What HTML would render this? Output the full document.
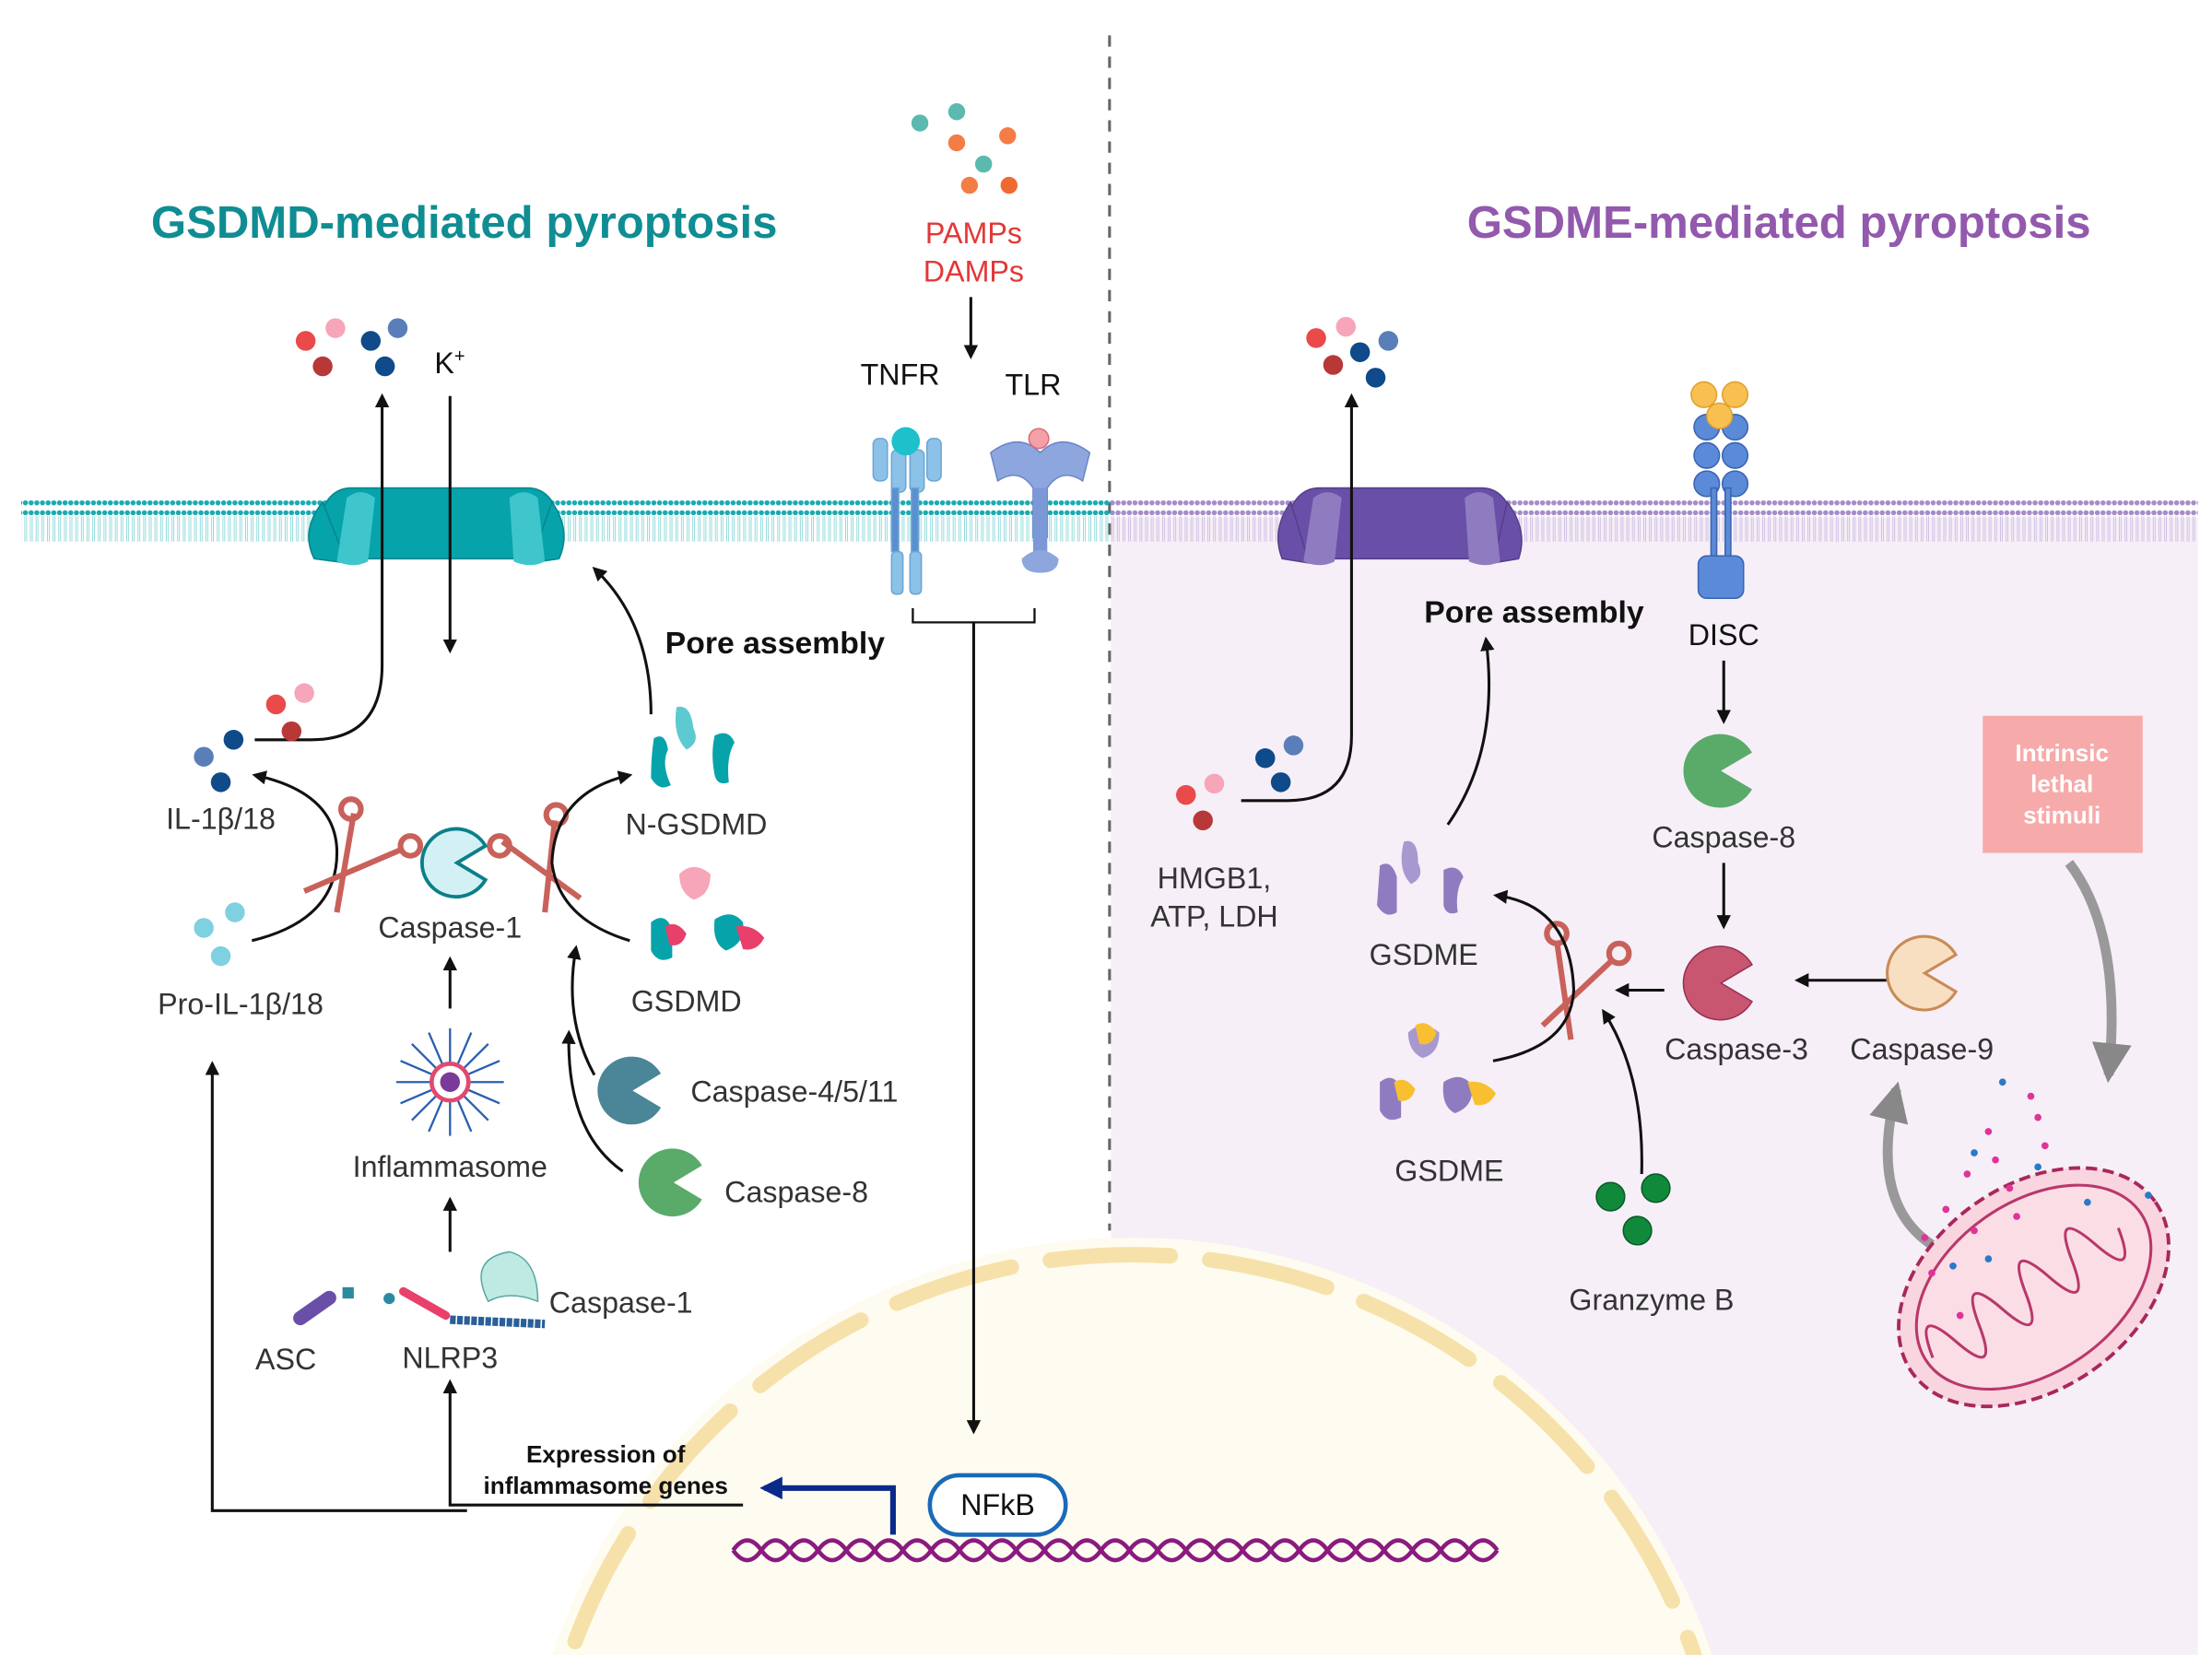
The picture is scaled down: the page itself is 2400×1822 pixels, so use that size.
<!DOCTYPE html>
<html><head><meta charset="utf-8"><style>html,body{margin:0;padding:0;background:#fff;width:2400px;height:1822px;overflow:hidden}svg{display:block}text{font-family:"Liberation Sans",sans-serif}</style></head><body>
<svg width="2400" height="1822" viewBox="0 0 1563 1187" preserveAspectRatio="none" xmlns="http://www.w3.org/2000/svg">
<defs>
<marker id="ah" viewBox="0 0 10 10" refX="8" refY="5" markerWidth="5" markerHeight="5" orient="auto"><path d="M0,0 L10,5 L0,10 Z" fill="#111"/></marker>
<marker id="ahb" viewBox="0 0 10 10" refX="8" refY="5" markerWidth="4" markerHeight="4" orient="auto"><path d="M0,0 L10,5 L0,10 Z" fill="#0a2a8a"/></marker>
<marker id="ahg" viewBox="0 0 10 10" refX="8" refY="5" markerWidth="4" markerHeight="4" orient="auto"><path d="M0,0 L10,5 L0,10 Z" fill="#888"/></marker>
<pattern id="mt" width="4" height="30" patternUnits="userSpaceOnUse"><circle cx="2" cy="2.5" r="1.8" fill="#1aaab0"/><circle cx="2" cy="25.5" r="1.8" fill="#1aaab0"/><path d="M1.5,5 V23 M2.8,5 V23" stroke="#8fd8da" stroke-width="0.6"/></pattern>
<pattern id="mp" width="4" height="30" patternUnits="userSpaceOnUse"><circle cx="2" cy="2.5" r="1.8" fill="#a58cc8"/><circle cx="2" cy="25.5" r="1.8" fill="#a58cc8"/><path d="M1.5,5 V23 M2.8,5 V23" stroke="#cdbde3" stroke-width="0.6"/></pattern>
<clipPath id="cl"><rect x="0" y="0" width="1563" height="1170"/></clipPath>
</defs>
<rect width="1563" height="1187" fill="#fff"/>
<rect x="785" y="366" width="768" height="804" fill="#f6eff7"/>
<g clip-path="url(#cl)">
<circle cx="800" cy="1307" r="432" fill="#fefcf0"/>
<circle cx="800" cy="1307" r="420" fill="none" stroke="#f7e1ab" stroke-width="11" stroke-dasharray="85 28" stroke-linecap="round"/>
</g>
<line x1="784" y1="25" x2="784" y2="870" stroke="#666" stroke-width="2" stroke-dasharray="8 7"/>
<rect x="15" y="353" width="770" height="30" fill="url(#mt)"/>
<rect x="785" y="353" width="768" height="30" fill="url(#mp)"/>
<g fill="#07a3aa" stroke="#05878d">
<rect x="228" y="345" width="165" height="50" rx="20"/>
<path d="M228,355 Q212,375 222,395 L245,398 Z"/><path d="M390,355 Q404,375 395,395 L375,398 Z"/>
</g>
<path d="M245,352 q10,-8 20,0 l-5,45 q-10,5 -22,0 Z M360,352 q10,-8 20,0 l5,45 q-10,5 -22,0 Z" fill="#3ec6cc"/>
<g fill="#6a4fa8" stroke="#54408a">
<rect x="912" y="345" width="155" height="50" rx="20"/>
<path d="M912,355 Q898,375 906,395 L925,398 Z"/><path d="M1065,355 Q1080,375 1073,395 L1055,398 Z"/>
</g>
<path d="M928,352 q10,-8 20,0 l-5,45 q-10,5 -22,0 Z M1035,352 q10,-8 20,0 l5,45 q-10,5 -22,0 Z" fill="#8f7cc0"/>
<text x="328" y="168" font-size="32" font-weight="bold" fill="#0f8d93" text-anchor="middle">GSDMD-mediated pyroptosis</text>
<text x="1257" y="168" font-size="32" font-weight="bold" fill="#9259ad" text-anchor="middle">GSDME-mediated pyroptosis</text>
<g><circle cx="650" cy="87" r="6" fill="#5bb9b0"/><circle cx="676" cy="79" r="6" fill="#5bb9b0"/><circle cx="676" cy="101" r="6" fill="#f47c45"/><circle cx="712" cy="96" r="6" fill="#f47c45"/><circle cx="695" cy="116" r="6" fill="#5bb9b0"/><circle cx="685" cy="131" r="6" fill="#f47c45"/><circle cx="713" cy="131" r="6" fill="#f06a30"/></g>
<text x="688" y="172" font-size="21" fill="#e23838" text-anchor="middle">PAMPs</text>
<text x="688" y="199" font-size="21" fill="#e23838" text-anchor="middle">DAMPs</text>
<line x1="686" y1="210" x2="686" y2="252" stroke="#111" stroke-width="2" marker-end="url(#ah)"/>
<text x="636" y="272" font-size="21" fill="#111" text-anchor="middle">TNFR</text>
<text x="730" y="279" font-size="21" fill="#111" text-anchor="middle">TLR</text>
<g fill="#8cc2e8" stroke="#6aa6d4"><rect x="617" y="310" width="10" height="30" rx="4"/><rect x="630" y="318" width="10" height="30" rx="4"/><rect x="643" y="318" width="10" height="30" rx="4"/><rect x="655" y="310" width="10" height="30" rx="4"/><rect x="630" y="345" width="5" height="45" fill="#5b8fd0"/><rect x="644" y="345" width="5" height="45" fill="#5b8fd0"/><rect x="630" y="390" width="8" height="30" rx="3"/><rect x="643" y="390" width="8" height="30" rx="3"/></g>
<circle cx="640" cy="312" r="10" fill="#1ec0cc"/>
<path d="M700,320 q20,-15 35,0 q15,-15 35,0 l-5,20 q-15,-10 -25,5 v35 h-10 v-35 q-10,-15 -25,-5 Z" fill="#8da7de" stroke="#6a86c8"/>
<rect x="730" y="345" width="10" height="45" fill="#7d98d6"/>
<path d="M722,395 q13,-12 26,0 q0,10 -13,10 q-13,0 -13,-10Z" fill="#8da7de"/>
<circle cx="734" cy="310" r="7" fill="#f5a0a8" stroke="#d86a78"/>
<path d="M645,430 v10 h86 v-10" fill="none" stroke="#111" stroke-width="1.5"/>
<line x1="688" y1="440" x2="688" y2="1012" stroke="#111" stroke-width="2" marker-end="url(#ah)"/>
<g><circle cx="216" cy="241" r="7" fill="#ea4a4a"/><circle cx="237" cy="232" r="7" fill="#f7a5b8"/><circle cx="228" cy="259" r="7" fill="#b83838"/><circle cx="262" cy="241" r="7" fill="#0f4a8a"/><circle cx="281" cy="232" r="7" fill="#5a7fb8"/><circle cx="272" cy="259" r="7" fill="#0f4a8a"/></g>
<text x="307" y="264" font-size="21" fill="#111">K<tspan font-size="13" dy="-8">+</tspan></text>
<path d="M180,523 H220 Q270,523 270,470 V280" fill="none" stroke="#111" stroke-width="2" marker-end="url(#ah)"/>
<line x1="318" y1="280" x2="318" y2="460" stroke="#111" stroke-width="2" marker-end="url(#ah)"/>
<g><circle cx="195" cy="498" r="7" fill="#ea4a4a"/><circle cx="215" cy="490" r="7" fill="#f7a5b8"/><circle cx="206" cy="517" r="7" fill="#b83838"/><circle cx="144" cy="535" r="7" fill="#5a7fb8"/><circle cx="165" cy="523" r="7" fill="#0f4a8a"/><circle cx="156" cy="553" r="7" fill="#0f4a8a"/></g>
<text x="156" y="586" font-size="21" fill="#333" text-anchor="middle">IL-1β/18</text>
<g><circle cx="144" cy="656" r="7" fill="#7fd0e0"/><circle cx="166" cy="645" r="7" fill="#7fd0e0"/><circle cx="156" cy="676" r="7" fill="#7fd0e0"/></g>
<text x="170" y="717" font-size="21" fill="#333" text-anchor="middle">Pro-IL-1β/18</text>
<path d="M178,665 Q240,650 238,600 Q236,560 180,548" fill="none" stroke="#111" stroke-width="2" marker-end="url(#ah)"/>
<g stroke="#c9615b" stroke-width="4" fill="none"><line x1="215" y1="630" x2="285" y2="600"/><line x1="238" y1="645" x2="250" y2="575"/><circle cx="248" cy="572" r="7"/><circle cx="290" cy="598" r="7"/></g>
<g stroke="#c9615b" stroke-width="4" fill="none"><line x1="410" y1="635" x2="355" y2="595"/><line x1="385" y1="645" x2="392" y2="580"/><circle cx="393" cy="576" r="7"/><circle cx="353" cy="598" r="7"/></g>
<path d="M323,610 L343,598 A24,24 0 1,0 343,622 Z" fill="#d3f1f5" stroke="#0b7f8a" stroke-width="2.5"/>
<text x="318" y="663" font-size="21" fill="#333" text-anchor="middle">Caspase-1</text>
<path d="M445,665 Q395,650 390,610 Q392,560 445,548" fill="none" stroke="#111" stroke-width="2" marker-end="url(#ah)"/>
<path d="M460,505 Q460,440 420,402" fill="none" stroke="#111" stroke-width="2" marker-end="url(#ah)"/>
<text x="470" y="462" font-size="22" font-weight="bold" fill="#111">Pore assembly</text>
<g fill="#07a3aa"><path d="M462,522 q8,-5 10,8 q-5,10 2,25 q-8,5 -14,-5 q0,-15 2,-28Z"/><path d="M478,500 q10,-3 12,15 q5,10 -5,15 q-10,-10 -7,-30Z" fill="#5ccad0"/><path d="M505,520 q10,-5 14,5 q-6,10 -4,28 q-8,3 -10,-5 q-3,-15 0,-28Z"/></g>
<text x="492" y="590" font-size="21" fill="#333" text-anchor="middle">N-GSDMD</text>
<g><path d="M460,652 q10,-8 15,5 v20 q-10,5 -15,-5Z" fill="#07a3aa"/><path d="M480,618 q10,-10 22,0 q0,15 -12,18 q-10,-5 -10,-18Z" fill="#f7a5b8"/><path d="M470,655 q8,-5 15,5 q-3,10 -12,8Z" fill="#e8406a"/><path d="M505,650 q12,-8 20,2 q2,15 -12,20 q-10,-5 -8,-22Z" fill="#07a3aa"/><path d="M520,655 q12,-2 20,8 q-5,10 -15,8Z" fill="#e8406a"/></g>
<text x="485" y="715" font-size="21" fill="#333" text-anchor="middle">GSDMD</text>
<path d="M447,771 L467,759 A24,24 0 1,0 467,783 Z" fill="#4a8598"/>
<text x="488" y="779" font-size="21" fill="#333">Caspase-4/5/11</text>
<path d="M476,836 L496,824 A24,24 0 1,0 496,848 Z" fill="#5aaa6a"/>
<text x="512" y="850" font-size="21" fill="#333">Caspase-8</text>
<path d="M440,828 Q400,800 402,730" fill="none" stroke="#111" stroke-width="2" marker-end="url(#ah)"/>
<path d="M420,760 Q398,720 407,670" fill="none" stroke="#111" stroke-width="2" marker-end="url(#ah)"/>
<line x1="318" y1="713" x2="318" y2="678" stroke="#111" stroke-width="2" marker-end="url(#ah)"/>
<g stroke="#2a5fae" stroke-width="1.5"><line x1="280" y1="765" x2="356" y2="765"/><line x1="318" y1="727" x2="318" y2="803"/><line x1="291" y1="738" x2="345" y2="792"/><line x1="345" y1="738" x2="291" y2="792"/><line x1="283" y1="750" x2="353" y2="780"/><line x1="283" y1="780" x2="353" y2="750"/><line x1="303" y1="730" x2="333" y2="800"/><line x1="333" y1="730" x2="303" y2="800"/></g>
<circle cx="318" cy="765" r="13" fill="#fff" stroke="#e04a70" stroke-width="3"/><circle cx="318" cy="765" r="7" fill="#7a3a9a"/>
<text x="318" y="832" font-size="21" fill="#333" text-anchor="middle">Inflammasome</text>
<line x1="318" y1="885" x2="318" y2="848" stroke="#111" stroke-width="2" marker-end="url(#ah)"/>
<rect x="205" y="920" width="35" height="10" rx="5" fill="#6a4fa8" transform="rotate(-35 222 925)"/><rect x="242" y="910" width="8" height="8" fill="#2a8aa0"/>
<line x1="285" y1="913" x2="315" y2="930" stroke="#e8406a" stroke-width="6" stroke-linecap="round"/><circle cx="275" cy="918" r="4" fill="#2a8aa0"/>
<line x1="318" y1="933" x2="385" y2="936" stroke="#2a5f9a" stroke-width="6" stroke-dasharray="4 1"/>
<path d="M345,920 q-15,-30 15,-35 q20,5 20,35 q-20,-8 -35,0Z" fill="#bfe9e3" stroke="#5aa8a0"/>
<text x="388" y="928" font-size="21" fill="#333">Caspase-1</text>
<text x="202" y="968" font-size="21" fill="#333" text-anchor="middle">ASC</text>
<text x="318" y="967" font-size="21" fill="#333" text-anchor="middle">NLRP3</text>
<path d="M330,1068 H150 V752" fill="none" stroke="#111" stroke-width="2" marker-end="url(#ah)"/>
<path d="M525,1064 H318 V977" fill="none" stroke="#111" stroke-width="2" marker-end="url(#ah)"/>
<text x="428" y="1034" font-size="17" font-weight="bold" fill="#111" text-anchor="middle">Expression of</text>
<text x="428" y="1056" font-size="17" font-weight="bold" fill="#111" text-anchor="middle">inflammasome genes</text>
<path d="M631,1085 V1052 H540" fill="none" stroke="#0a2a8a" stroke-width="4" marker-end="url(#ahb)"/>
<rect x="657" y="1043" width="96" height="42" rx="21" fill="#fff" stroke="#1a6ab8" stroke-width="3"/>
<text x="705" y="1071" font-size="21" fill="#111" text-anchor="middle">NFkB</text>
<path d="M518,1096 q10,-14 20,0 t20,0 t20,0 t20,0 t20,0 t20,0 t20,0 t20,0 t20,0 t20,0 t20,0 t20,0 t20,0 t20,0 t20,0 t20,0 t20,0 t20,0 t20,0 t20,0 t20,0 t20,0 t20,0 t20,0 t20,0 t20,0 t20,0" fill="none" stroke="#8a1a80" stroke-width="3"/>
<path d="M518,1096 q10,14 20,0 t20,0 t20,0 t20,0 t20,0 t20,0 t20,0 t20,0 t20,0 t20,0 t20,0 t20,0 t20,0 t20,0 t20,0 t20,0 t20,0 t20,0 t20,0 t20,0 t20,0 t20,0 t20,0 t20,0 t20,0 t20,0 t20,0" fill="none" stroke="#8a1a80" stroke-width="3"/>
<g><circle cx="930" cy="239" r="7" fill="#ea4a4a"/><circle cx="951" cy="231" r="7" fill="#f7a5b8"/><circle cx="942" cy="258" r="7" fill="#b83838"/><circle cx="961" cy="249" r="7" fill="#0f4a8a"/><circle cx="981" cy="241" r="7" fill="#5a7fb8"/><circle cx="972" cy="267" r="7" fill="#0f4a8a"/></g>
<path d="M877,566 H910 Q955,566 955,520 V280" fill="none" stroke="#111" stroke-width="2" marker-end="url(#ah)"/>
<g><circle cx="838" cy="562" r="7" fill="#ea4a4a"/><circle cx="858" cy="554" r="7" fill="#f7a5b8"/><circle cx="850" cy="580" r="7" fill="#b83838"/><circle cx="894" cy="536" r="7" fill="#0f4a8a"/><circle cx="914" cy="527" r="7" fill="#5a7fb8"/><circle cx="905" cy="553" r="7" fill="#0f4a8a"/></g>
<text x="858" y="628" font-size="21" fill="#333" text-anchor="middle">HMGB1,</text>
<text x="858" y="655" font-size="21" fill="#333" text-anchor="middle">ATP, LDH</text>
<text x="1084" y="440" font-size="22" font-weight="bold" fill="#111" text-anchor="middle">Pore assembly</text>
<path d="M1023,583 Q1060,530 1050,452" fill="none" stroke="#111" stroke-width="2" marker-end="url(#ah)"/>
<g fill="#8f7cc0"><path d="M975,612 q8,-5 12,8 v25 q-8,5 -14,-5Z"/><path d="M992,595 q10,-3 10,15 q5,10 -5,15 q-10,-10 -5,-30Z" fill="#a898d0"/><path d="M1020,615 q10,-5 14,5 q-6,10 -4,25 q-8,3 -10,-5Z"/></g>
<text x="1006" y="682" font-size="21" fill="#333" text-anchor="middle">GSDME</text>
<g><path d="M975,765 q10,-8 15,5 v20 q-10,5 -15,-5Z" fill="#8f7cc0"/><path d="M995,730 q10,-10 22,0 q0,15 -12,18 q-10,-5 -10,-18Z" fill="#a898d0"/><path d="M1000,725 q8,-5 15,5 q-3,10 -12,8Z" fill="#f8c030"/><path d="M985,765 q8,-5 15,5 q-3,10 -12,8Z" fill="#f8c030"/><path d="M1020,765 q12,-8 20,2 q2,15 -12,20 q-10,-5 -8,-22Z" fill="#8f7cc0"/><path d="M1037,765 q12,-2 20,8 q-5,10 -15,8Z" fill="#f8c030"/></g>
<text x="1024" y="835" font-size="21" fill="#333" text-anchor="middle">GSDME</text>
<g stroke="#c9615b" stroke-width="4" fill="none"><line x1="1090" y1="725" x2="1140" y2="678"/><line x1="1110" y1="735" x2="1100" y2="665"/><circle cx="1100" cy="660" r="7"/><circle cx="1144" cy="674" r="7"/></g>
<path d="M1055,750 Q1110,740 1112,700 Q1110,640 1057,633" fill="none" stroke="#111" stroke-width="2" marker-end="url(#ah)"/>
<line x1="1176" y1="700" x2="1143" y2="700" stroke="#111" stroke-width="2" marker-end="url(#ah)"/>
<path d="M1160,830 Q1162,760 1133,715" fill="none" stroke="#111" stroke-width="2" marker-end="url(#ah)"/>
<g fill="#108a3a" stroke="#0a5a28"><circle cx="1138" cy="846" r="10"/><circle cx="1170" cy="840" r="10"/><circle cx="1157" cy="870" r="10"/></g>
<text x="1167" y="926" font-size="21" fill="#333" text-anchor="middle">Granzyme B</text>
<g fill="#5a8ad8" stroke="#3a64b0"><circle cx="1206" cy="302" r="9"/><circle cx="1226" cy="302" r="9"/><circle cx="1206" cy="322" r="9"/><circle cx="1226" cy="322" r="9"/><circle cx="1206" cy="342" r="9"/><circle cx="1226" cy="342" r="9"/><rect x="1209" y="345" width="4" height="50"/><rect x="1219" y="345" width="4" height="50"/><rect x="1200" y="393" width="32" height="30" rx="6"/></g>
<g fill="#f8c050" stroke="#e0a030"><circle cx="1204" cy="279" r="9"/><circle cx="1226" cy="279" r="9"/><circle cx="1215" cy="294" r="9"/></g>
<text x="1218" y="456" font-size="21" fill="#111" text-anchor="middle">DISC</text>
<line x1="1218" y1="467" x2="1218" y2="510" stroke="#111" stroke-width="2" marker-end="url(#ah)"/>
<path d="M1216,545 L1238,532 A26,26 0 1,0 1238,558 Z" fill="#5aaa6a"/>
<text x="1218" y="599" font-size="21" fill="#333" text-anchor="middle">Caspase-8</text>
<line x1="1218" y1="610" x2="1218" y2="655" stroke="#111" stroke-width="2" marker-end="url(#ah)"/>
<path d="M1216,695 L1238,682 A26,26 0 1,0 1238,708 Z" fill="#c85670" stroke="#9a3050"/>
<text x="1227" y="749" font-size="21" fill="#333" text-anchor="middle">Caspase-3</text>
<line x1="1333" y1="693" x2="1270" y2="693" stroke="#111" stroke-width="2" marker-end="url(#ah)"/>
<path d="M1360,688 L1382,675 A26,26 0 1,0 1382,701 Z" fill="#f8dfc2" stroke="#c98a55" stroke-width="2"/>
<text x="1358" y="749" font-size="21" fill="#333" text-anchor="middle">Caspase-9</text>
<rect x="1401" y="506" width="113" height="97" fill="#f7aaaa"/>
<text x="1457" y="538" font-size="17" font-weight="bold" fill="#fff" text-anchor="middle">Intrinsic</text>
<text x="1457" y="560" font-size="17" font-weight="bold" fill="#fff" text-anchor="middle">lethal</text>
<text x="1457" y="582" font-size="17" font-weight="bold" fill="#fff" text-anchor="middle">stimuli</text>
<path d="M1462,610 Q1500,660 1490,760" fill="none" stroke="#999" stroke-width="7" marker-end="url(#ahg)"/>
<path d="M1365,880 Q1320,850 1340,770" fill="none" stroke="#999" stroke-width="7" marker-end="url(#ahg)"/>
<g transform="rotate(-35 1437 910)"><ellipse cx="1437" cy="910" rx="105" ry="72" fill="#f9d5df" stroke="#a8285a" stroke-width="2.5" stroke-dasharray="8 4"/><ellipse cx="1437" cy="910" rx="92" ry="60" fill="#fbdde6" stroke="#b8386a" stroke-width="2"/><path d="M1350,910 q10,-40 20,0 t20,0 q10,-40 20,0 t20,0 q10,-40 20,0 t20,0 q10,-40 20,0 t20,0" fill="none" stroke="#b8386a" stroke-width="2"/></g>
<g fill="#e0339a"><circle cx="1390" cy="830" r="2.5"/><circle cx="1405" cy="800" r="2.5"/><circle cx="1420" cy="840" r="2.5"/><circle cx="1440" cy="790" r="2.5"/><circle cx="1445" cy="810" r="2.5"/><circle cx="1360" cy="875" r="2.5"/><circle cx="1375" cy="855" r="2.5"/><circle cx="1395" cy="870" r="2.5"/><circle cx="1425" cy="860" r="2.5"/><circle cx="1410" cy="820" r="2.5"/><circle cx="1385" cy="930" r="2.5"/><circle cx="1365" cy="900" r="2.5"/><circle cx="1435" cy="775" r="2.5"/></g>
<g fill="#2a7ac8"><circle cx="1415" cy="765" r="2.5"/><circle cx="1395" cy="815" r="2.5"/><circle cx="1440" cy="825" r="2.5"/><circle cx="1405" cy="890" r="2.5"/><circle cx="1475" cy="850" r="2.5"/><circle cx="1518" cy="845" r="2.5"/><circle cx="1380" cy="895" r="2.5"/></g>
</svg>
</body></html>
